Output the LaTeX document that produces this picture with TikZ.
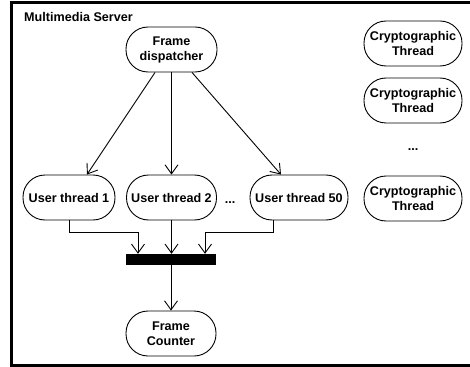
\documentclass[tikz,border=0pt]{standalone}
\usepackage{fontspec}
\setmainfont{Liberation Sans}
\usetikzlibrary{arrows.meta}
\begin{document}
\begin{tikzpicture}[x=1pt,y=-1pt,
  lbl/.style={font=\fontsize{12.6}{15}\selectfont\bfseries, inner sep=0pt},
  act/.style={lbl, draw=black, line width=0.9pt, rounded corners=22pt,
    minimum height=45pt, align=center},
  flow/.style={draw=black, line width=0.9pt,
    -{Straight Barb[length=9pt,width=13pt,line width=0.9pt]}}]
\useasboundingbox (0,0) rectangle (470,366);
\draw[line width=3pt] (480,2.5) -- (11.5,2.5) -- (11.5,365.5) -- (480,365.5);
\node[lbl, anchor=west] (title) at (24,17) {Multimedia Server};
\node[act, minimum width=91pt] (fd) at (171.5,49.5) {Frame\\dispatcher};
\node[act, minimum width=92pt] (u1) at (69,197.5) {User thread 1};
\node[act, minimum width=90pt] (u2) at (171.5,197.5) {User thread 2};
\node[lbl] (dots) at (230,203) {...};
\node[act, minimum width=98pt] (u50) at (299,197.5) {User thread 50};
\node[fill=black, minimum width=90pt, minimum height=11pt, inner sep=0pt] (bar) at (171,259.5) {};
\node[act, minimum width=90pt] (fc) at (171,333.5) {Frame\\Counter};
\node[act, minimum width=98pt] (c1) at (413,43.5) {Cryptographic\\Thread};
\node[act, minimum width=98pt] (c2) at (413,100.5) {Cryptographic\\Thread};
\node[lbl] (dots2) at (413,150) {...};
\node[act, minimum width=98pt] (c3) at (413,198.5) {Cryptographic\\Thread};
\draw[flow] ([xshift=-16.5pt]fd.south) -- ([xshift=18pt]u1.north);
\draw[flow] (fd.south) -- (u2.north);
\draw[flow] ([xshift=20.5pt]fd.south) -- ([xshift=-18pt]u50.north);
\draw[flow] (u1.south) -- ++(0,12) -| ([xshift=-33pt]bar.north);
\draw[flow] (u2.south) -- (u2.south |- bar.north);
\draw[flow] ([xshift=-26pt]u50.south) -- ++(0,12) -| ([xshift=34pt]bar.north);
\draw[flow] (bar.south) -- (fc.north);
\end{tikzpicture}
\end{document}
